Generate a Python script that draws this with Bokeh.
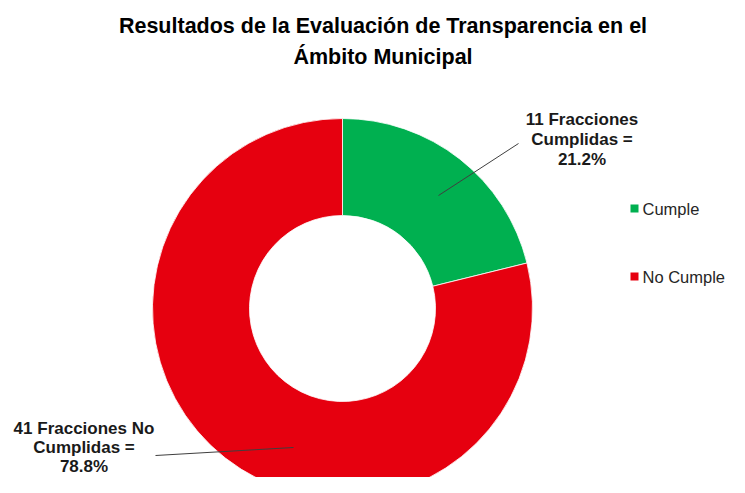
import math
from bokeh.plotting import figure
from bokeh.models import Range1d, Label, ColumnDataSource
from bokeh.embed import file_html
from bokeh.resources import INLINE

# ---- data ----
categories = ["Cumple", "No Cumple"]
counts = [11, 41]
colors = ["#00B050", "#E6000F"]
label_heads = ["11 Fracciones", "41 Fracciones No"]
label_mids = ["Cumplidas =", "Cumplidas ="]
title_lines = ["Resultados de la Evaluación de Transparencia en el", "Ámbito Municipal"]

total = sum(counts)
starts, ends = [], []
cum = 0
for c in counts:
    ends.append(math.pi / 2 - 2 * math.pi * cum / total)
    starts.append(math.pi / 2 - 2 * math.pi * (cum + c) / total)
    cum += c
pcts = ["%.1f%%" % (100.0 * c / total) for c in counts]

src = ColumnDataSource(dict(cat=categories, val=counts, start=starts, end=ends, color=colors))

p = figure(width=729, height=477, x_range=Range1d(-342, 387), y_range=Range1d(-169, 308),
           x_axis_type=None, y_axis_type=None, toolbar_location=None, output_backend="svg",
           min_border=0, outline_line_color=None)
p.grid.visible = False

p.annular_wedge(x=0, y=0, inner_radius=93, outer_radius=190, start_angle="start", end_angle="end",
                fill_color="color", line_color="#FFFFFF", line_width=0.8, source=src,
                inner_radius_units="screen", outer_radius_units="screen")

FONT = "Liberation Sans"

# title
for txt, yy in zip(title_lines, [283, 252]):
    p.add_layout(Label(x=40.5, y=yy, text=txt, text_align="center", text_baseline="middle",
                       text_font=FONT, text_font_style="bold", text_font_size="21.5px",
                       text_color="#000000"))

# data labels
label_pos = [(239.5, [189, 169, 149]), (-258.5, [-120, -139, -158])]
for (lx, ys), head, mid, pct in zip(label_pos, label_heads, label_mids, pcts):
    for txt, yy in zip([head, mid, pct], ys):
        p.add_layout(Label(x=lx, y=yy, text=txt, text_align="center", text_baseline="middle",
                           text_font=FONT, text_font_style="bold", text_font_size="17px",
                           text_color="#1A1A1A"))

# leader lines
p.line(x=[96, 176], y=[113, 165], line_color="#3F3F3F", line_width=1)
p.line(x=[-49, -187], y=[-139, -147], line_color="#3F3F3F", line_width=1)

# legend
leg_y = [100, 32]
p.scatter(x=[292, 292], y=leg_y, marker="square", size=8, fill_color=colors, line_color=None)
for cat, yy in zip(categories, leg_y):
    p.add_layout(Label(x=300, y=yy, text=cat, text_align="left", text_baseline="middle",
                       text_font=FONT, text_font_size="16.5px", text_color="#262626"))

open("out.html", "w").write(file_html(p, INLINE))
